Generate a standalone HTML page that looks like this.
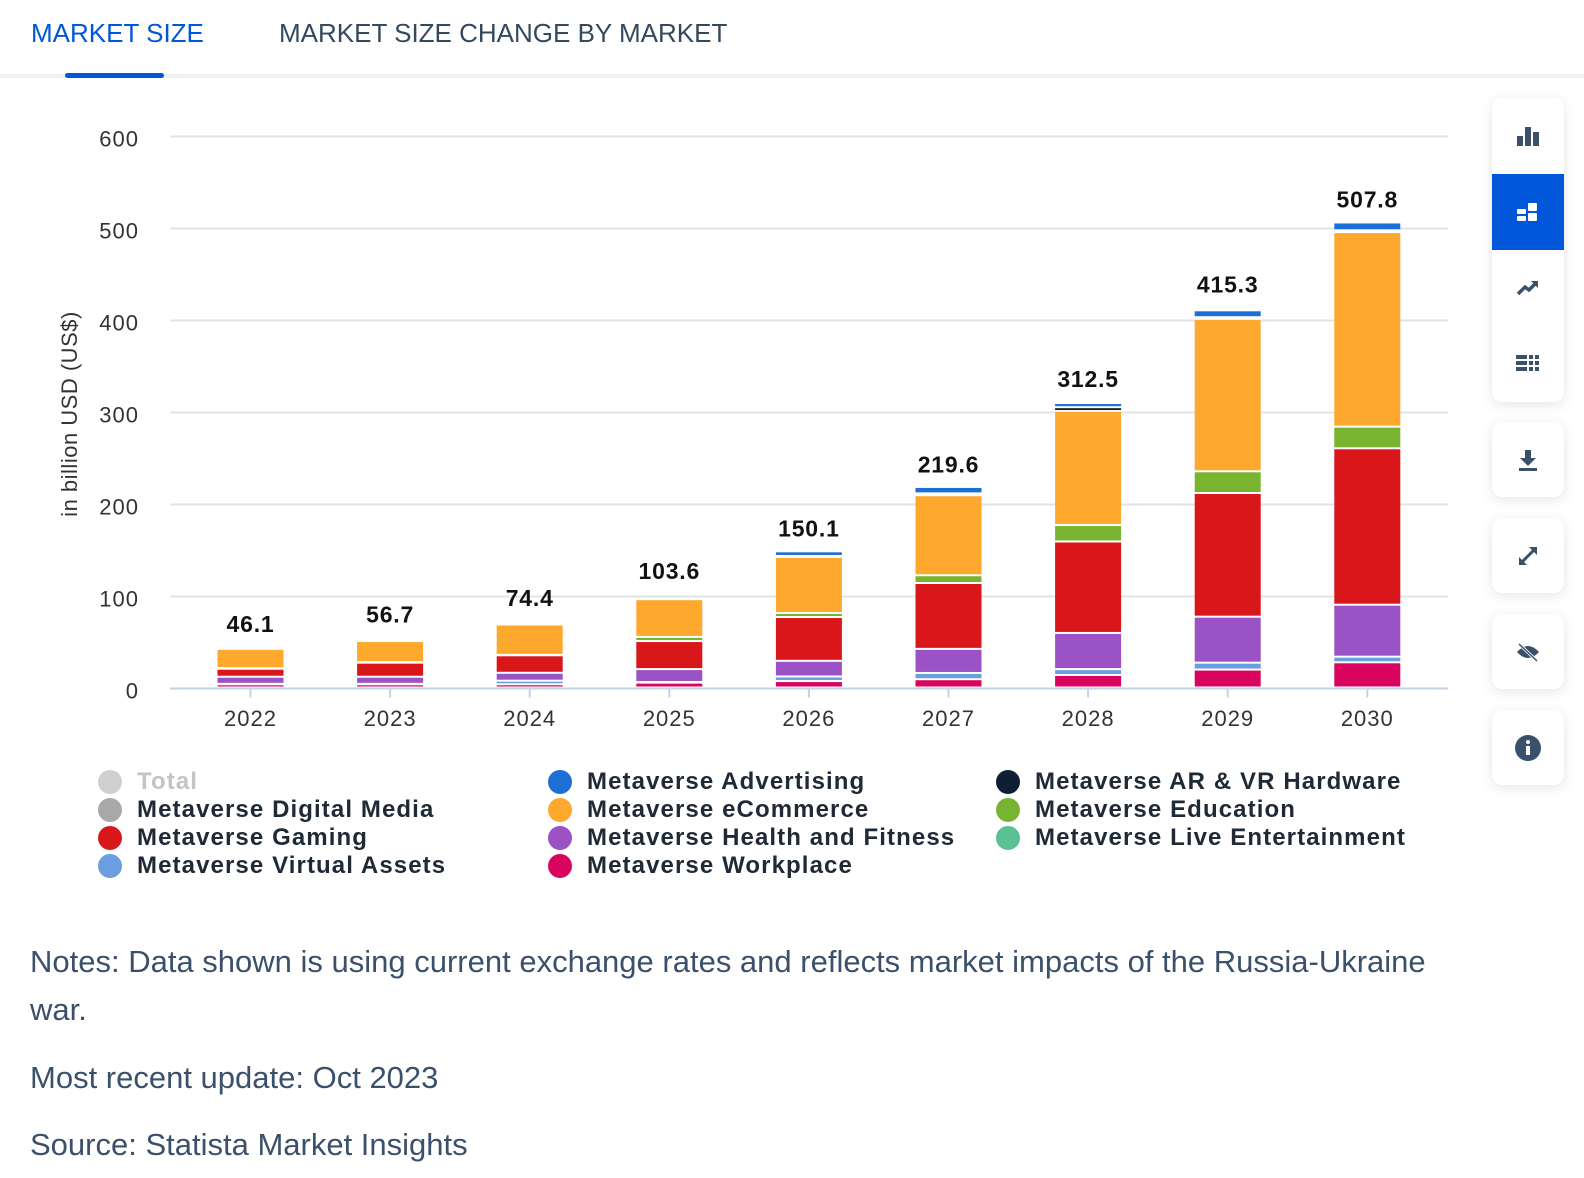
<!DOCTYPE html>
<html><head><meta charset="utf-8"><style>
body{margin:0;width:1584px;height:1178px;background:#fff;font-family:"Liberation Sans","DejaVu Sans",sans-serif;position:relative;overflow:hidden}
.tab{position:absolute;top:18px;font-size:26px;letter-spacing:0px}
.card{position:absolute;left:1492px;width:72px;background:#fff;border-radius:10px;box-shadow:0 3px 12px rgba(40,50,80,0.12);overflow:hidden}
.ic{height:76px;display:flex;align-items:center;justify-content:center}
.leg{position:absolute;font-size:24px;font-weight:bold;color:#1f2a36;letter-spacing:1.1px;display:flex;align-items:center}
.leg i{display:inline-block;width:24px;height:24px;border-radius:50%;margin-right:15px}
.note{position:absolute;left:30px;font-size:31px;color:#3b506b}
</style></head><body>
<div class="tab" style="left:31px;color:#0057d9">MARKET SIZE</div>
<div class="tab" style="left:279px;color:#34495e">MARKET SIZE CHANGE BY MARKET</div>
<div style="position:absolute;left:0;top:74px;width:1584px;height:4px;background:#eef2f7"></div>
<div style="position:absolute;left:65px;top:73px;width:99px;height:5px;border-radius:3px;background:#0057d9"></div>

<svg id="chart" style="position:absolute;left:0;top:0" width="1470" height="750"></svg>

<div class="card" style="top:98px;height:304px">
 <div class="ic"><svg width="24" height="24"><rect x="1" y="12" width="6" height="10" fill="#3b506b"/><rect x="9" y="3" width="6" height="19" fill="#3b506b"/><rect x="17" y="8" width="6" height="14" fill="#3b506b"/></svg></div>
 <div class="ic" style="background:#0057d9"><svg width="24" height="24"><rect x="1" y="9" width="9" height="5" rx="1" fill="#fff"/><rect x="1" y="16" width="9" height="5" rx="1" fill="#fff"/><rect x="12" y="3" width="9" height="8" rx="1" fill="#fff"/><rect x="12" y="13" width="9" height="8" rx="1" fill="#fff"/></svg></div>
 <div class="ic"><svg width="24" height="24"><path d="M2 18 L9 11 L13 14 L20 7" stroke="#3b506b" stroke-width="3.5" fill="none"/><path d="M15 5 L22 5 L22 12Z" fill="#3b506b"/></svg></div>
 <div class="ic"><svg width="26" height="22"><g fill="#3b506b"><rect x="1" y="2" width="11" height="4"/><rect x="1" y="8" width="11" height="4"/><rect x="1" y="14" width="11" height="4"/><rect x="14" y="2" width="4" height="4"/><rect x="20" y="2" width="4" height="4"/><rect x="14" y="8" width="4" height="4"/><rect x="20" y="8" width="4" height="4"/><rect x="14" y="14" width="4" height="4"/><rect x="20" y="14" width="4" height="4"/></g></svg></div>
</div>
<div class="card" style="top:422px;height:75px"><div class="ic" style="height:75px"><svg width="22" height="24"><path d="M8 2h6v8h5l-8 8-8-8h5z" fill="#3b506b"/><rect x="2" y="20" width="18" height="3" fill="#3b506b"/></svg></div></div>
<div class="card" style="top:518px;height:75px"><div class="ic" style="height:75px"><svg width="24" height="24"><path d="M4 20 L20 4" stroke="#3b506b" stroke-width="3"/><path d="M13 3h8v8z M3 13v8h8z" fill="#3b506b"/></svg></div></div>
<div class="card" style="top:614px;height:75px"><div class="ic" style="height:75px"><svg width="26" height="22"><path d="M2 11 Q13 -1 24 11 Q13 23 2 11Z" fill="#3b506b"/><path d="M4 3 L22 20" stroke="#fff" stroke-width="3"/><path d="M4 3 L22 20" stroke="#3b506b" stroke-width="1.5"/></svg></div></div>
<div class="card" style="top:710px;height:75px"><div class="ic" style="height:75px"><svg width="28" height="28"><circle cx="14" cy="14" r="13" fill="#3b506b"/><circle cx="14" cy="8" r="2" fill="#fff"/><rect x="12" y="12" width="4" height="9" fill="#fff"/></svg></div></div>

<div class="leg" style="left:98px;top:768px;color:#c4c4c4"><i style="background:#cfcfcf"></i>Total</div>
<div class="leg" style="left:98px;top:796px"><i style="background:#a8a8a8"></i>Metaverse Digital Media</div>
<div class="leg" style="left:98px;top:824px"><i style="background:#d9171b"></i>Metaverse Gaming</div>
<div class="leg" style="left:98px;top:852px"><i style="background:#6a9ee0"></i>Metaverse Virtual Assets</div>
<div class="leg" style="left:548px;top:768px"><i style="background:#1b6fd6"></i>Metaverse Advertising</div>
<div class="leg" style="left:548px;top:796px"><i style="background:#fea82d"></i>Metaverse eCommerce</div>
<div class="leg" style="left:548px;top:824px"><i style="background:#9b52c4"></i>Metaverse Health and Fitness</div>
<div class="leg" style="left:548px;top:852px"><i style="background:#d9045d"></i>Metaverse Workplace</div>
<div class="leg" style="left:996px;top:768px"><i style="background:#0f1f33"></i>Metaverse AR &amp; VR Hardware</div>
<div class="leg" style="left:996px;top:796px"><i style="background:#78b42f"></i>Metaverse Education</div>
<div class="leg" style="left:996px;top:824px"><i style="background:#5cc192"></i>Metaverse Live Entertainment</div>

<div class="note" style="top:938px;line-height:48px;width:1420px">Notes: Data shown is using current exchange rates and reflects market impacts of the Russia-Ukraine war.</div>
<div class="note" style="top:1060px">Most recent update: Oct 2023</div>
<div class="note" style="top:1127px">Source: Statista Market Insights</div>

<script>
const years=["2022","2023","2024","2025","2026","2027","2028","2029","2030"];
const totals=[46.1,56.7,74.4,103.6,150.1,219.6,312.5,415.3,507.8];
const yTicks=[0,100,200,300,400,500,600];
const workplace=[3.5,3.5,3.5,5.3,7,9,13.6,19.5,27.4];
const virtualAssets=[0.5,0.5,3.9,0.7,5,6.8,6.4,7.5,6.1];
const health=[7.7,7.7,8.6,14,17,26.2,39.3,50,56.5];
const gaming=[8.7,15.3,19,30.5,47.6,71.6,99.4,134.4,170];
const education=[0.6,0.5,0.5,4.5,4.4,8.4,17.9,23.6,23.5];
const ecommerce=[21,23,33,41,61,87,123.9,165.5,211.5];
const arvr=[0,0,0,0,1,2,4.2,2,2];
const advertising=[0,0,0,0.5,5,7,4.5,7.5,8.5];
const seriesList=[["workplace",workplace,"#d9045d"],["virtual-assets",virtualAssets,"#6a9ee0"],["health",health,"#9b52c4"],["gaming",gaming,"#d9171b"],["education",education,"#78b42f"],["ecommerce",ecommerce,"#fea82d"],["ar-vr",arvr,"#0f1f33"],["advertising",advertising,"#1b6fd6"]];
const NS="http://www.w3.org/2000/svg";
const svg=document.getElementById("chart");
const y0=688.5,ppu=0.92;
const yS=v=>y0-v*ppu;
const xC=i=>250.5+i*139.6;
const bw=66;
function mk(t,a){const e=document.createElementNS(NS,t);for(const k in a)e.setAttribute(k,a[k]);svg.appendChild(e);return e;}
yTicks.forEach(t=>{
 if(t>0){const l=mk("line",{x1:170,x2:1448,y1:yS(t),y2:yS(t),stroke:"#e3e3e3","stroke-width":2});
 
 }
 const tx=mk("text",{x:139,y:yS(t)+10,"text-anchor":"end","font-size":22,fill:"#333","letter-spacing":"1"});
 tx.textContent=t;
 
 
});
const ax=mk("line",{x1:170,x2:1448,y1:y0,y2:y0,stroke:"#c5d2e6","stroke-width":2});


const yt=mk("text",{transform:"translate(77,414) rotate(-90)","text-anchor":"middle","font-size":22,fill:"#333","letter-spacing":"0.5"});
yt.textContent="in billion USD (US$)";


years.forEach((yr,i)=>{
 const x=xC(i);
 let cum=0;
 seriesList.forEach(([nm,arr,col])=>{
  const v=arr[i];const bot=yS(cum);cum+=v;const top=yS(cum);
  const h=bot-top-2;
  if(h>0.3){const r=mk("rect",{x:x-bw/2,y:top,width:bw,height:h,fill:col});
   
   }
 });
 const tk=mk("line",{x1:x,x2:x,y1:y0,y2:y0+9,stroke:"#c5d2e6","stroke-width":2});
 
 
 const xl=mk("text",{x:x,y:726,"text-anchor":"middle","font-size":22,fill:"#333","letter-spacing":"1"});
 xl.textContent=yr;
 
 
 const tl=mk("text",{x:x,y:yS(totals[i])-14,"text-anchor":"middle","font-size":23,"font-weight":"bold",fill:"#111","letter-spacing":"0.8"});
 tl.textContent=totals[i].toFixed(1);
 
 
});
</script>
</body></html>
